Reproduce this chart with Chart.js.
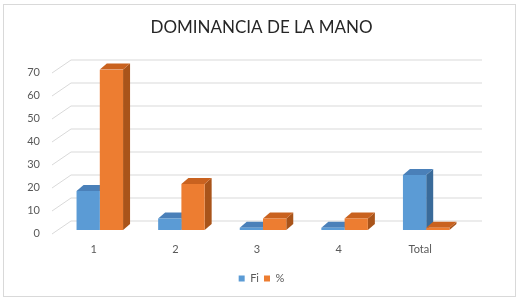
<!DOCTYPE html>
<html>
<head>
<meta charset="utf-8">
<script src="https://cdn.jsdelivr.net/npm/chart.js@4/dist/chart.umd.min.js"></script>
<style>
  html, body { margin: 0; padding: 0; background: #fff; }
  #wrap { width: 523px; height: 300px; }
</style>
</head>
<body>
<div id="wrap"><canvas id="myChart" width="523" height="300"></canvas></div>
<script>
// data
var categories = ['1', '2', '3', '4', 'Total'];
var fiValues = [17, 5, 1, 1, 24];
var pctValues = [70, 20, 5, 5, 1];
var seriesNames = ['Fi', '%'];
var yMax = 70;
var yStep = 10;

var frontColors = ['#5B9BD5', '#ED7D31'];
var topColors = ['#4A80B9', '#C9621F'];
var sideColors = ['#3A6B9A', '#A9541A'];

// 3d look: bar depth and back wall offset (px)
var barDepth = { dx: 7, dy: 6 };
var wallDepth = { dx: 19, dy: 9.5 };

var threeD = {
    id: 'threeD',
    beforeDraw(chart) {
        var ctx = chart.ctx;
        ctx.save();
        ctx.strokeStyle = '#d9d9d9';
        ctx.lineWidth = 1;
        ctx.strokeRect(3.5, 4.5, 512, 292);
        ctx.restore();
    },
    beforeDatasetsDraw(chart) {
        var ctx = chart.ctx;
        var a = chart.chartArea;
        var y = chart.scales.y;
        ctx.save();
        ctx.strokeStyle = '#d9d9d9';
        ctx.lineWidth = 1;
        y.ticks.forEach(function (t) {
            var py = Math.round(y.getPixelForValue(t.value)) + 0.5;
            ctx.beginPath();
            ctx.moveTo(a.left + 12, py - wallDepth.dy);
            ctx.lineTo(a.right + 15, py - wallDepth.dy);
            ctx.moveTo(a.left - 7, py + 3.5);
            ctx.lineTo(a.left + 12, py - wallDepth.dy);
            ctx.stroke();
        });
        // side and top faces, category by category so the fronts cover them right
        var metas = chart.getSortedVisibleDatasetMetas();
        for (var i = 0; i < categories.length; i++) {
            metas.forEach(function (meta) {
                var el = meta.data[i];
                var p = el.getProps(['x', 'y', 'base', 'width'], true);
                var l = p.x - p.width / 2, r = p.x + p.width / 2;
                var dx = barDepth.dx, dy = barDepth.dy;
                ctx.fillStyle = sideColors[meta.index];
                ctx.beginPath();
                ctx.moveTo(r, p.y);
                ctx.lineTo(r + dx, p.y - dy);
                ctx.lineTo(r + dx, p.base - dy);
                ctx.lineTo(r, p.base);
                ctx.closePath();
                ctx.fill();
                ctx.fillStyle = topColors[meta.index];
                ctx.beginPath();
                ctx.moveTo(l, p.y);
                ctx.lineTo(l + dx, p.y - dy);
                ctx.lineTo(r + dx, p.y - dy);
                ctx.lineTo(r, p.y);
                ctx.closePath();
                ctx.fill();
            });
        }
        ctx.restore();
    }
};

var ctx = document.getElementById('myChart');
var chart = new Chart(ctx, {
    type: 'bar',
    data: {
        labels: categories,
        datasets: [
            {
                label: seriesNames[0],
                data: fiValues,
                backgroundColor: frontColors[0],
                borderWidth: 0,
                categoryPercentage: 0.57,
                barPercentage: 1
            },
            {
                label: seriesNames[1],
                data: pctValues,
                backgroundColor: frontColors[1],
                borderWidth: 0,
                categoryPercentage: 0.57,
                barPercentage: 1
            }
        ]
    },
    options: {
        responsive: false,
        animation: false,
        layout: { padding: { left: 0, right: 0, top: 0, bottom: 6 } },
        scales: {
            x: {
                grid: { display: false, drawTicks: false },
                border: { display: false },
                ticks: {
                    color: '#595959',
                    font: { family: 'Lato', size: 11 },
                    padding: 13,
                    labelOffset: -6
                },
                afterFit: function (s) { s.height = 38; }
            },
            y: {
                min: 0,
                max: yMax,
                grid: { display: false, drawTicks: false },
                border: { display: false },
                ticks: {
                    stepSize: yStep,
                    color: '#595959',
                    font: { family: 'Lato', size: 11 },
                    padding: 19,
                    labelOffset: 3
                },
                afterFit: function (s) { s.width = 59; }
            },
            y2: {
                position: 'right',
                display: true,
                grid: { display: false, drawTicks: false },
                border: { display: false },
                ticks: { display: false },
                afterFit: function (s) { s.width = 56; }
            }
        },
        plugins: {
            title: {
                display: true,
                text: 'DOMINANCIA DE LA MANO',
                color: '#262626',
                font: { family: 'Lato', size: 17, weight: 'normal' },
                padding: { top: 17, bottom: 32 }
            },
            legend: {
                position: 'bottom',
                labels: {
                    color: '#595959',
                    font: { family: 'Lato', size: 11 },
                    boxWidth: 6,
                    boxHeight: 6,
                    padding: 5
                }
            },
            tooltip: { enabled: false }
        }
    },
    plugins: [threeD]
});
</script>
</body>
</html>
